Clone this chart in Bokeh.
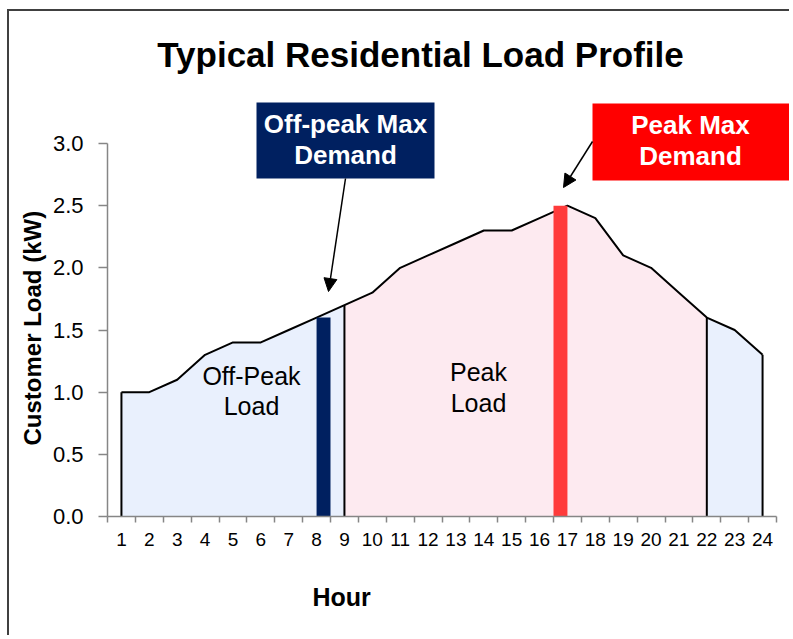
from bokeh.plotting import figure
from bokeh.models import (Range1d, FixedTicker, PrintfTickFormatter, Label,
                          BoxAnnotation, Arrow, NormalHead, Title)
from bokeh.embed import file_html
from bokeh.resources import INLINE

# ---------------- data ----------------
hours = list(range(1, 25))
load_kw = [1.0, 1.0, 1.1, 1.3, 1.4, 1.4, 1.5, 1.6, 1.7, 1.8, 2.0, 2.1,
           2.2, 2.3, 2.3, 2.4, 2.5, 2.4, 2.1, 2.0, 1.8, 1.6, 1.5, 1.3]
peak_start_hour = 9
peak_end_hour = 22
offpeak_max_hour = 8
peak_max_hour = 17
y_ticks = [0.0, 0.5, 1.0, 1.5, 2.0, 2.5, 3.0]

# ---------------- layout helpers ----------------
FONT = "Liberation Sans"
W, H = 782, 626
OX, OY = 9, 11             # canvas origin on the page (margin + css border)
FL, FB = 107, 516          # frame left / y=0 line on the page
PXX = 27.875               # px per hour
PXY = 373 / 3.0            # px per kW


def X(px):
    return 0.5 + (px - FL) / PXX


def Y(py):
    return (FB - py) / PXY


BLUE_FILL = "#E9F0FD"
PINK_FILL = "#FDEAF0"
NAVY = "#002060"
RED_BAR = "#FF3B3B"
RED_BOX = "#FF0000"
AXIS_GRAY = "#868686"

p = figure(width=W, height=H, output_backend="svg", toolbar_location=None,
           x_range=Range1d(0.5, X(OX + W)), y_range=Range1d(0, Y(OY)),
           min_border_left=FL - OX, min_border_right=0, min_border_top=0,
           min_border_bottom=OY + H - FB,
           styles={"margin-left": "7px", "margin-top": "9px",
                   "border-left": "2px solid #404040",
                   "border-top": "2px solid #404040"})
p.outline_line_color = None
p.grid.visible = False
p.background_fill_color = "white"
p.border_fill_color = "white"

# ---------------- areas ----------------
i9 = hours.index(peak_start_hour)
i22 = hours.index(peak_end_hour)
p.varea(x=hours[:i9 + 1], y1=[0] * (i9 + 1), y2=load_kw[:i9 + 1],
        fill_color=BLUE_FILL)
p.varea(x=hours[i9:i22 + 1], y1=[0] * (i22 - i9 + 1), y2=load_kw[i9:i22 + 1],
        fill_color=PINK_FILL)
p.varea(x=hours[i22:], y1=[0] * (len(hours) - i22), y2=load_kw[i22:],
        fill_color=BLUE_FILL)

# ---------------- outline ----------------
p.line(hours, load_kw, line_color="black", line_width=2)
edge_idx = [0, i9, i22, len(hours) - 1]
p.segment(x0=[hours[i] for i in edge_idx], y0=[0] * 4,
          x1=[hours[i] for i in edge_idx], y1=[load_kw[i] for i in edge_idx],
          line_color="black", line_width=2)

# ---------------- max-demand bars ----------------
io = hours.index(offpeak_max_hour)
ip = hours.index(peak_max_hour)
p.vbar(x=[offpeak_max_hour + 0.25], top=[load_kw[io]], width=0.5,
       fill_color=NAVY, line_color=None)
p.vbar(x=[peak_max_hour - 0.25], top=[load_kw[ip]], width=0.5,
       fill_color=RED_BAR, line_color=None)

# ---------------- axes ----------------
xa = p.xaxis[0]
xa.ticker = FixedTicker(ticks=hours, minor_ticks=[h - 0.5 for h in hours] + [hours[-1] + 0.5])
xa.bounds = (0.5, 24.5)
xa.major_tick_out = 0
xa.major_tick_in = 0
xa.minor_tick_out = 6
xa.minor_tick_in = 0
xa.minor_tick_line_color = AXIS_GRAY
xa.minor_tick_line_width = 1.5
xa.axis_line_color = AXIS_GRAY
xa.axis_line_width = 1.5
xa.major_label_text_font = FONT
xa.major_label_text_font_size = "19px"
xa.major_label_text_color = "black"
xa.major_label_standoff = 10

ya = p.yaxis[0]
ya.ticker = FixedTicker(ticks=y_ticks, minor_ticks=[])
ya.formatter = PrintfTickFormatter(format="%.1f")
ya.bounds = (0, 3)
ya.major_tick_out = 9
ya.major_tick_in = 0
ya.minor_tick_out = 0
ya.minor_tick_in = 0
ya.major_tick_line_color = AXIS_GRAY
ya.major_tick_line_width = 1.5
ya.axis_line_color = AXIS_GRAY
ya.axis_line_width = 1.5
ya.major_label_text_font = FONT
ya.major_label_text_font_size = "22px"
ya.major_label_text_color = "black"
ya.major_label_standoff = 15

# axis titles (placed as side titles so they can sit off-centre like the original)
p.add_layout(Title(text="Customer Load (kW)", align="left", offset=71, standoff=8,
                   text_font=FONT, text_font_size="24px", text_font_style="bold",
                   text_color="black"), "left")
# small spacer between the tick labels and the "Hour" title
p.add_layout(Title(text=" ", text_font_size="1px", standoff=15), "below")
p.add_layout(Title(text="Hour", align="left", offset=205, standoff=29,
                   text_font=FONT, text_font_size="25px", text_font_style="bold",
                   text_color="black"), "below")


def lab(text, px, py, size_px, bold=False, color="black"):
    # py is the wanted baseline on the page; shift for the renderer's baseline
    p.add_layout(Label(x=X(px), y=Y(py - 0.4 * size_px), text=text,
                       text_align="center", text_baseline="alphabetic",
                       text_font=FONT, text_font_size=f"{size_px}px",
                       text_color=color,
                       text_font_style="bold" if bold else "normal"))


# ---------------- title & texts ----------------
lab("Typical Residential Load Profile", 420, 68, 35, bold=True)
lab("Off-Peak", 251, 385, 25)
lab("Load", 251, 415, 25)
lab("Peak", 478, 381, 25)
lab("Load", 478, 412, 25)

# ---------------- callout boxes ----------------
p.add_layout(BoxAnnotation(left=X(256), right=X(434), top=Y(102), bottom=Y(178),
                           fill_color=NAVY, fill_alpha=1, line_color=None))
p.add_layout(BoxAnnotation(left=X(592), right=X(795), top=Y(103), bottom=Y(180),
                           fill_color=RED_BOX, fill_alpha=1, line_color=None))
lab("Off-peak Max", 345, 134, 26, bold=True, color="white")
lab("Demand", 345, 165, 26, bold=True, color="white")
lab("Peak Max", 690, 135, 26, bold=True, color="white")
lab("Demand", 690, 166, 26, bold=True, color="white")

p.add_layout(Arrow(end=NormalHead(size=13, fill_color="black", line_color="black"),
                   x_start=X(345), y_start=Y(178), x_end=X(328), y_end=Y(291),
                   line_color="black", line_width=1.5))
p.add_layout(Arrow(end=NormalHead(size=13, fill_color="black", line_color="black"),
                   x_start=X(592), y_start=Y(141), x_end=X(563), y_end=Y(187),
                   line_color="black", line_width=1.5))

open("out.html", "w").write(file_html(p, INLINE))
